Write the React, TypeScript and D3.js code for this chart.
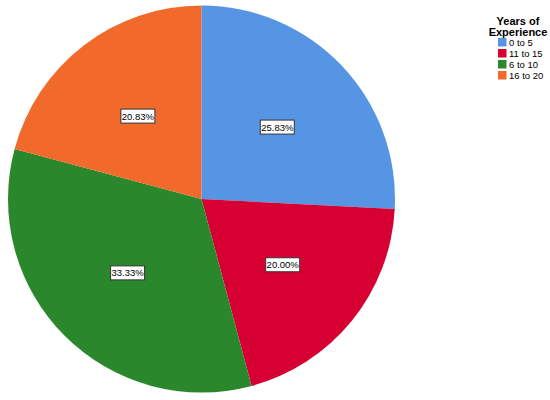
import React from "react";
import * as d3 from "d3";

const categories = ["0 to 5", "11 to 15", "6 to 10", "16 to 20"];
const percents = [25.83, 20.0, 33.33, 20.83];
const colors = ["#5695E4", "#D60032", "#2B872B", "#F2692C"];
const legendTitle = ["Years of", "Experience"];

const W = 550;
const H = 400;
const cx = 201.5;
const cy = 199;
const R = 193.5;

export default function App() {
  const pie = d3.pie<number>().sort(null).value((d) => d);
  const arcs = pie(percents);
  const arc = d3.arc<d3.PieArcDatum<number>>().innerRadius(0).outerRadius(R);
  const labelArc = d3
    .arc<d3.PieArcDatum<number>>()
    .innerRadius(R * 0.54)
    .outerRadius(R * 0.54);
  const fmt = d3.format(".2f");
  const fontFamily = "Arial, 'Liberation Sans', sans-serif";
  const boxW = 34;
  const boxH = 14;

  return (
    <svg
      width={W}
      height={H}
      style={{ position: "absolute", left: 0, top: 0, background: "#fff" }}
    >
      <g transform={`translate(${cx},${cy})`}>
        {arcs.map((a, i) => (
          <path key={i} d={arc(a) || ""} fill={colors[i]} />
        ))}
        {arcs.map((a, i) => {
          const [lx, ly] = labelArc.centroid(a);
          return (
            <g key={"l" + i} transform={`translate(${lx},${ly})`}>
              <rect
                x={-boxW / 2}
                y={-boxH / 2}
                width={boxW}
                height={boxH}
                fill="#fff"
                stroke="#333"
                strokeWidth={1}
              />
              <text
                x={0}
                y={3.5}
                textAnchor="middle"
                fontSize={9.5}
                fontFamily={fontFamily}
                fill="#000"
              >
                {fmt(a.data)}%
              </text>
            </g>
          );
        })}
      </g>
      <g fontFamily={fontFamily}>
        {legendTitle.map((t, i) => (
          <text
            key={t}
            x={518}
            y={25 + i * 10.5}
            textAnchor="middle"
            fontSize={11}
            fontWeight="bold"
            fill="#000"
          >
            {t}
          </text>
        ))}
        {categories.map((c, i) => (
          <g key={c} transform={`translate(498,${38 + i * 11})`}>
            <rect x={0} y={0} width={8.5} height={8.5} fill={colors[i]} />
            <text x={11} y={8} fontSize={9.5} fill="#000">
              {c}
            </text>
          </g>
        ))}
      </g>
    </svg>
  );
}
